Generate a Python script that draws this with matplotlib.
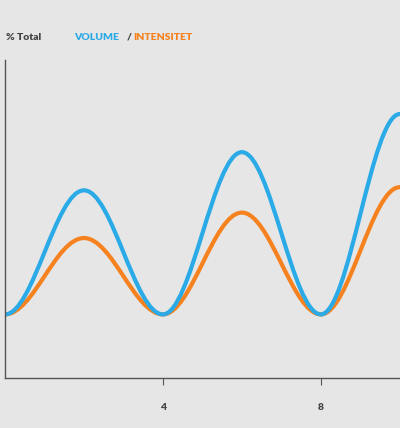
import matplotlib
matplotlib.use("Agg")
import matplotlib.pyplot as plt
from matplotlib.path import Path
from matplotlib.patches import PathPatch

x_keys = [0, 2, 4, 6, 8, 10]
volume = [20, 59, 20, 71, 20, 83]
intensitet = [20, 44, 20, 52, 20, 60]
xticks = [4, 8]
xticklabels = ["4", "8"]

BLUE = "#2aaae6"
ORANGE = "#f5821f"
BG = "#e6e6e6"

fig = plt.figure(figsize=(4, 4.28), dpi=100, facecolor=BG)
ax = fig.add_axes([0.0125, 0.1168, 0.99, 0.7432])
ax.set_facecolor(BG)

def smooth(xs, ys):
    verts = [(xs[0], ys[0])]
    codes = [Path.MOVETO]
    for i in range(1, len(xs)):
        d = (xs[i] - xs[i-1]) * 0.36
        verts += [(xs[i-1] + d, ys[i-1]), (xs[i] - d, ys[i]), (xs[i], ys[i])]
        codes += [Path.CURVE4] * 3
    return Path(verts, codes)

for ys, c in [(intensitet, ORANGE), (volume, BLUE)]:
    ax.add_patch(PathPatch(smooth(x_keys, ys), fill=False, edgecolor=c, lw=3, capstyle="round"))

ax.set_xlim(0, 10.03)
ax.set_ylim(0, 100)
for s in ["top", "right"]:
    ax.spines[s].set_visible(False)
for s in ["left", "bottom"]:
    ax.spines[s].set_color("#555555")
    ax.spines[s].set_linewidth(1)
ax.set_xticks(xticks)
ax.set_xticklabels(xticklabels, fontsize=7.5, color="#444444", fontweight="heavy", family="Lato")
ax.tick_params(axis="x", length=5, color="#555555", pad=13)
ax.set_yticks([])

kw = dict(fontsize=7.5, fontweight="heavy", family="Lato")
fig.text(0.015, 0.907, "% Total", color="#444444", **kw)
fig.text(0.185, 0.907, "VOLUME", color=BLUE, **kw)
fig.text(0.316, 0.907, "/", color="#444444", **kw)
fig.text(0.334, 0.907, "INTENSITET", color=ORANGE, **kw)

fig.savefig("out.png", dpi=100, facecolor=BG)
